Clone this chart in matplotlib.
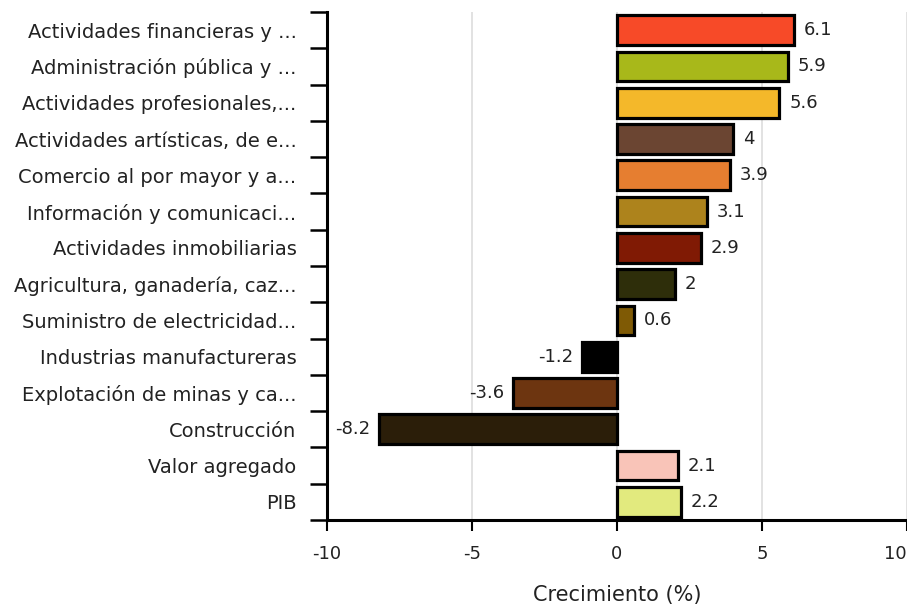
import matplotlib
matplotlib.use("Agg")
import matplotlib.pyplot as plt
import numpy as np

categories = [
    "Actividades financieras y ...",
    "Administración pública y ...",
    "Actividades profesionales,...",
    "Actividades artísticas, de e...",
    "Comercio al por mayor y a...",
    "Información y comunicaci...",
    "Actividades inmobiliarias",
    "Agricultura, ganadería, caz...",
    "Suministro de electricidad...",
    "Industrias manufactureras",
    "Explotación de minas y ca...",
    "Construcción",
    "Valor agregado",
    "PIB",
]
values = [6.1, 5.9, 5.6, 4, 3.9, 3.1, 2.9, 2, 0.6, -1.2, -3.6, -8.2, 2.1, 2.2]
value_labels = ["6.1", "5.9", "5.6", "4", "3.9", "3.1", "2.9", "2", "0.6", "-1.2", "-3.6", "-8.2", "2.1", "2.2"]
colors = ["#F74A28", "#A8B81A", "#F4B82A", "#6B4532", "#E67E30", "#AD831C", "#801A04",
          "#2E2E0A", "#7F5A05", "#000000", "#6D3510", "#2B1E09", "#F9C4B8", "#E2EA7E"]
xticks = [-10, -5, 0, 5, 10]
xlabel = "Crecimiento (%)"

plt.rcParams['font.family'] = ['DejaVu Sans']

fig = plt.figure(figsize=(9.07, 6.05), dpi=100)
ax = fig.add_axes([327/907, 1 - 520/605, 1 - 327/907, (520 - 12)/605])

y = np.arange(len(categories))
bars = ax.barh(y, values, height=0.82, color=colors, edgecolor="black", linewidth=2.3, zorder=3)

for b, v, lab in zip(bars, values, value_labels):
    if v >= 0:
        ax.text(v + 0.34, b.get_y() + b.get_height()/2, lab, ha="left", va="center", fontsize=13, color="#222222")
    else:
        ax.text(v - 0.3, b.get_y() + b.get_height()/2, lab, ha="right", va="center", fontsize=13, color="#222222")

ax.set_xlim(-10, 10)
ax.set_ylim(len(categories) - 0.5, -0.5)
ax.set_xticks(xticks)
ax.set_xticklabels([str(t) for t in xticks], fontsize=13, color="#222222")
xtl = ax.get_xticklabels()
xtl[-1].set_horizontalalignment("right")
ax.xaxis.grid(True, color="#dddddd", linewidth=1.2, zorder=0)
ax.set_axisbelow(True)

ax.set_yticks(y)
ax.set_yticklabels(categories, fontsize=14, color="#222222")
ax.set_yticks(np.arange(len(categories) + 1) - 0.5, minor=True)
ax.tick_params(axis="y", which="major", length=0, pad=22)
ax.tick_params(axis="y", which="minor", length=12, width=1.8, direction="out")
ax.tick_params(axis="x", which="major", length=8, width=1.5, direction="out", pad=10)

for s in ["top", "right"]:
    ax.spines[s].set_visible(False)
for s in ["left", "bottom"]:
    ax.spines[s].set_linewidth(2.2)
    ax.spines[s].set_color("black")

ax.set_xlabel(xlabel, fontsize=15, color="#222222", labelpad=16)

fig.savefig("out.png", dpi=100)
